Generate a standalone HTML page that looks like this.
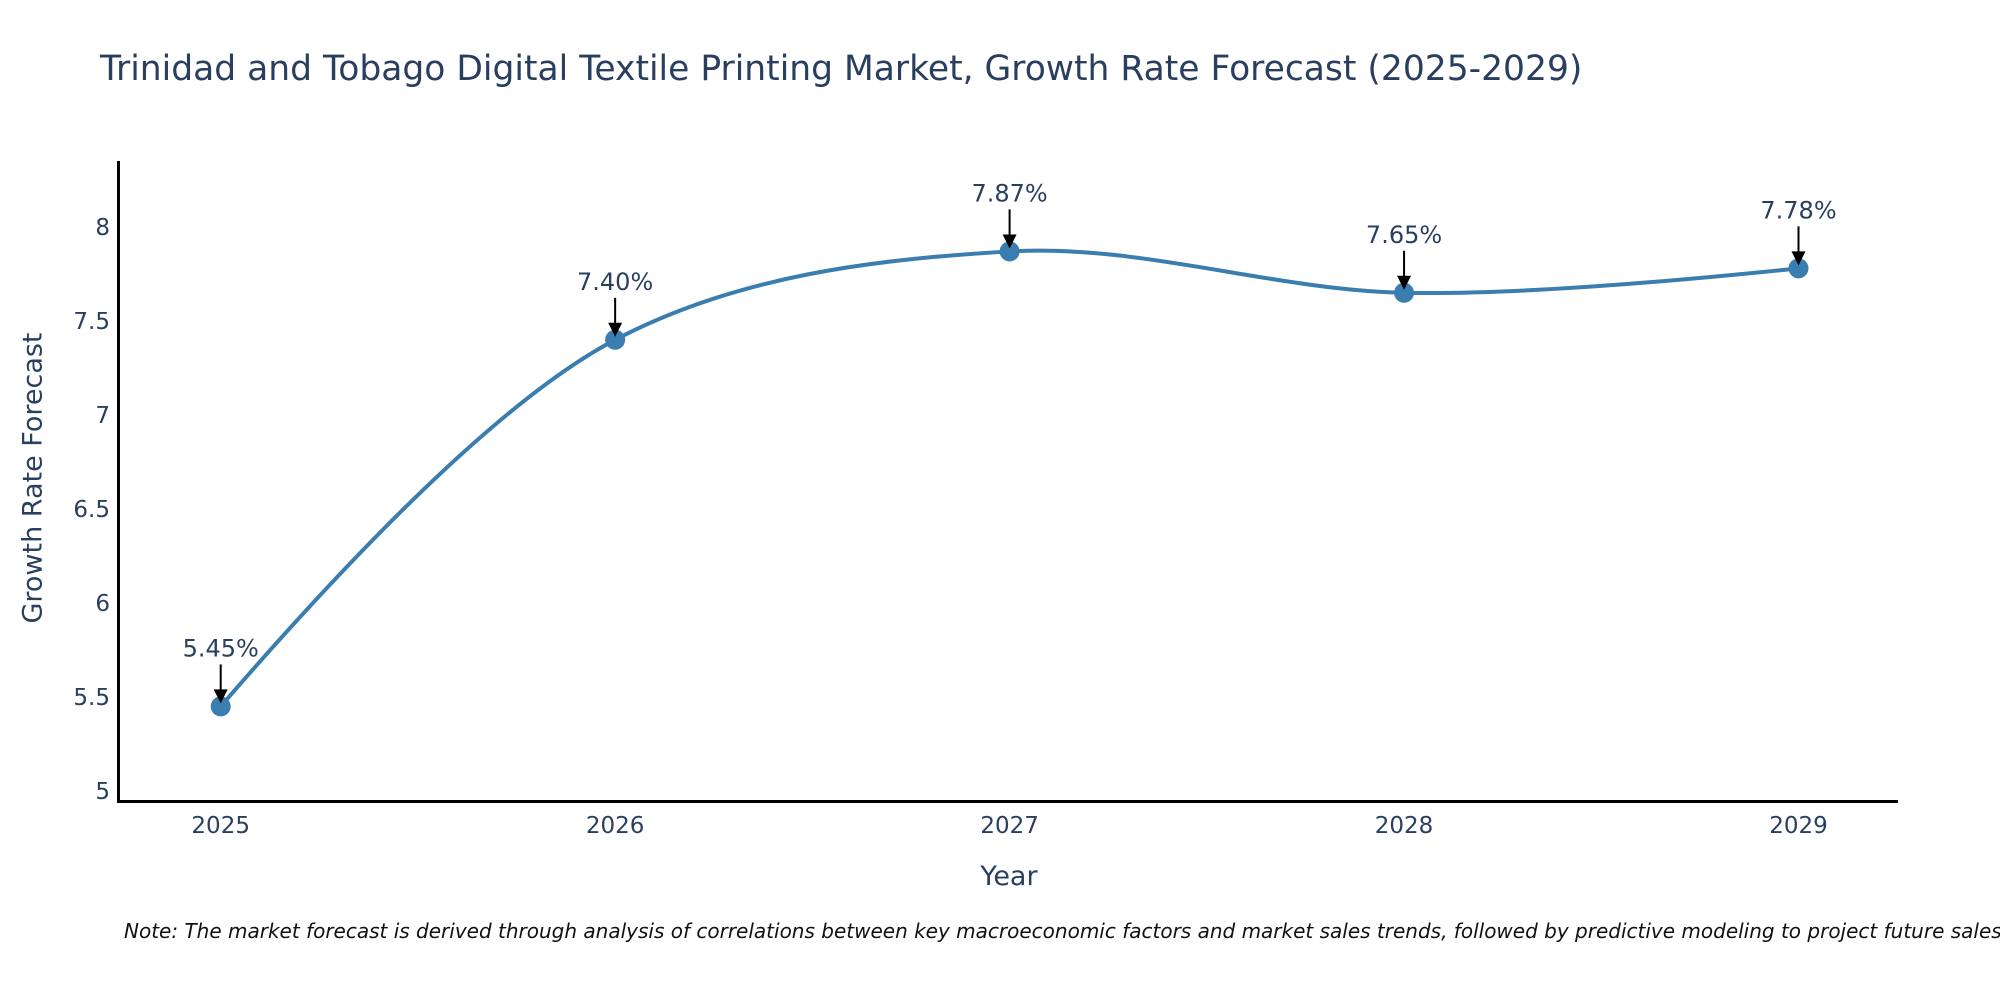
<!DOCTYPE html>
<html><head><meta charset="utf-8">
<style>
html,body{margin:0;padding:0;background:#fff;}
svg{display:block;font-family:"DejaVu Sans","Liberation Sans",sans-serif;}
</style></head>
<body>
<svg id="chart" width="2000" height="1000" viewBox="0 0 2000 1000" xmlns="http://www.w3.org/2000/svg">
<rect width="2000" height="1000" fill="#fff"/>
<text x="100" y="80" font-size="34.5" fill="#2a3f5f">Trinidad and Tobago Digital Textile Printing Market, Growth Rate Forecast (2025-2029)</text>
<g id="yticks"></g>
<g id="xticks"></g>
<line x1="118.5" y1="161" x2="118.5" y2="802" stroke="#000" stroke-width="3"/>
<line x1="117" y1="801.5" x2="1898" y2="801.5" stroke="#000" stroke-width="3"/>
<text x="34" y="478" font-size="27" fill="#2a3f5f" text-anchor="middle" transform="rotate(-90 34 478)" dominant-baseline="middle">Growth Rate Forecast</text>
<text x="1009" y="885" font-size="27" fill="#2a3f5f" text-anchor="middle">Year</text>
<path id="line" fill="none" stroke="#3a7eb0" stroke-width="4"/>
<g id="points"></g>
<g id="annots"></g>
<text x="124" y="938" font-size="20" font-style="italic" fill="#111">Note: The market forecast is derived through analysis of correlations between key macroeconomic factors and market sales trends, followed by predictive modeling to project future sales.</text>
</svg>
<script>
const years = [2025, 2026, 2027, 2028, 2029];
const growth = [5.45, 7.40, 7.87, 7.65, 7.78];
const labels = ["5.45%", "7.40%", "7.87%", "7.65%", "7.78%"];
const yTicks = [5, 5.5, 6, 6.5, 7, 7.5, 8];
const yTickLabels = ["5", "5.5", "6", "6.5", "7", "7.5", "8"];

const NS = "http://www.w3.org/2000/svg";
function xScale(v){ return 220.7 + (v - 2025) * 394.45; }
function yScale(v){ return 791 - (v - 5) * 188; }
function mk(tag, attrs, parent){ const e=document.createElementNS(NS,tag); for(const k in attrs) e.setAttribute(k,attrs[k]); parent.appendChild(e); return e; }

const yg=document.getElementById('yticks');
yTicks.forEach((t,i)=>{
  const e=mk('text',{x:110,y:yScale(t)+8,'font-size':23,fill:'#2a3f5f','text-anchor':'end'},yg);
  
  
  e.textContent=yTickLabels[i];
});
const xg=document.getElementById('xticks');
years.forEach(y=>{
  const e=mk('text',{x:xScale(y),y:833,'font-size':23,fill:'#2a3f5f','text-anchor':'middle'},xg);
  
  
  e.textContent=String(y);
});

const pts=years.map((y,i)=>[xScale(y),yScale(growth[i])]);
function tangent(prev,cur,next){
  const d1x=prev[0]-cur[0],d1y=prev[1]-cur[1],d2x=next[0]-cur[0],d2y=next[1]-cur[1];
  const d1a=Math.pow(d1x*d1x+d1y*d1y,0.25),d2a=Math.pow(d2x*d2x+d2y*d2y,0.25);
  const numx=(d2a*d2a*d1x-d1a*d1a*d2x),numy=(d2a*d2a*d1y-d1a*d1a*d2y);
  const den1=3*d2a*(d1a+d2a),den2=3*d1a*(d1a+d2a);
  return [[cur[0]+numx/den1,cur[1]+numy/den1],[cur[0]-numx/den2,cur[1]-numy/den2]];
}
const tg=[];
for(let i=1;i<pts.length-1;i++) tg.push(tangent(pts[i-1],pts[i],pts[i+1]));
const n=pts.length;
let d='M'+pts[0]+'Q'+tg[0][0]+' '+pts[1];
for(let i=2;i<n-1;i++) d+='C'+tg[i-2][1]+' '+tg[i-1][0]+' '+pts[i];
d+='Q'+tg[n-3][1]+' '+pts[n-1];
document.getElementById('line').setAttribute('d',d);

const pg=document.getElementById('points');
const ag=document.getElementById('annots');
pts.forEach((p,i)=>{
  const c=mk('circle',{cx:p[0],cy:p[1],r:10,fill:'#3a7eb0'},pg);
  
  
  const l=mk('line',{x1:p[0],y1:p[1]-42,x2:p[0],y2:p[1]-14,stroke:'#000','stroke-width':2},ag);
  
  
  const a=mk('polygon',{points:(p[0]-7)+','+(p[1]-17)+' '+(p[0]+7)+','+(p[1]-17)+' '+p[0]+','+(p[1]-3),fill:'#000'},ag);
  
  
  const t=mk('text',{x:p[0],y:p[1]-50,'font-size':24,fill:'#2a3f5f','text-anchor':'middle'},ag);
  
  
  t.textContent=labels[i];
});
</script>
</body></html>
